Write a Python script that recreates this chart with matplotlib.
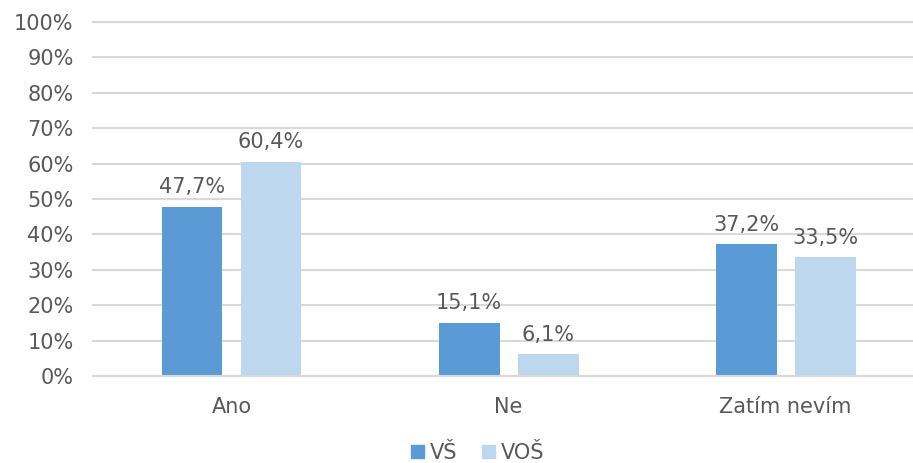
import matplotlib
matplotlib.use("Agg")
import matplotlib.pyplot as plt
import numpy as np

categories = ["Ano", "Ne", "Zatím nevím"]
series_names = ["VŠ", "VOŠ"]
vs_values = [47.7, 15.1, 37.2]
vos_values = [60.4, 6.1, 33.5]
y_ticks = [0, 10, 20, 30, 40, 50, 60, 70, 80, 90, 100]

colors = ["#5B9BD5", "#BDD7EE"]
text_color = "#595959"
grid_color = "#D9D9D9"
fs = 15

plt.rcParams["font.family"] = ["DejaVu Sans"]

fig = plt.figure(figsize=(9.13, 4.63), dpi=100)
ax = fig.add_axes([93 / 913, 87 / 463, 1 - 93 / 913, (376 - 22) / 463])

x = np.arange(len(categories))
width = 0.22
offset = 0.1426

for vals, off, col in [(vs_values, -offset, colors[0]), (vos_values, offset, colors[1])]:
    bars = ax.bar(x + off, vals, width, color=col, zorder=3)
    for b, v in zip(bars, vals):
        ax.annotate(f"{v:.1f}%".replace(".", ","),
                    (b.get_x() + b.get_width() / 2, v),
                    xytext=(0, 7), textcoords="offset points",
                    ha="center", va="bottom", fontsize=fs, color=text_color)

ax.set_xlim(-0.5, 2.46)
ax.set_ylim(0, 100)
ax.set_yticks(y_ticks)
ax.set_yticklabels([f"{t}%" for t in y_ticks])
ax.set_xticks(x)
ax.set_xticklabels(categories)

ax.yaxis.grid(True, color=grid_color, linewidth=1.5, zorder=0)
for gl in ax.get_ygridlines():
    gl.set_clip_on(False)
ax.set_axisbelow(True)
for s in ["top", "right", "left"]:
    ax.spines[s].set_visible(False)
ax.spines["bottom"].set_color(grid_color)
ax.spines["bottom"].set_linewidth(1.5)
ax.spines["bottom"].set_zorder(4)

ax.tick_params(axis="y", length=0, pad=14, labelsize=fs, labelcolor=text_color)
ax.tick_params(axis="x", length=0, pad=15, labelsize=fs, labelcolor=text_color)

handles = [plt.Rectangle((0, 0), 1, 1, color=c) for c in colors]
fig.legend(handles, series_names, loc="center", bbox_to_anchor=(478 / 913, 1 - 453 / 463),
           ncol=2, frameon=False, fontsize=fs, labelcolor=text_color,
           handlelength=0.6, handleheight=0.6, handletextpad=0.3, columnspacing=1.2)

fig.savefig("out.png", dpi=100)
